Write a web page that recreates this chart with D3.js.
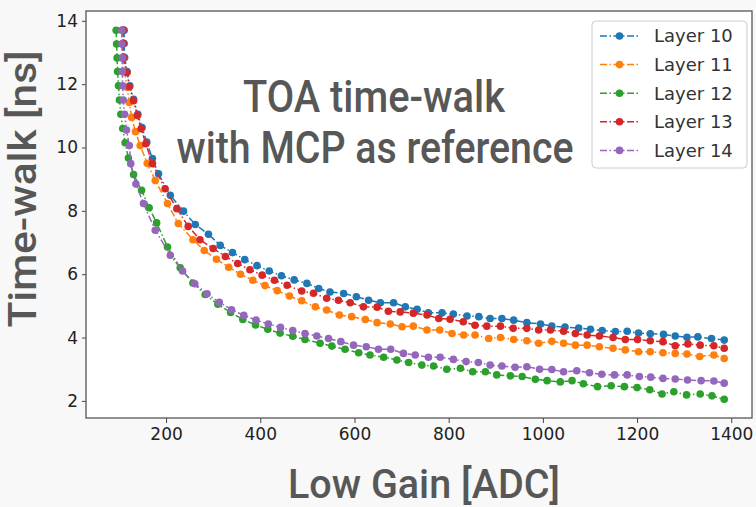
<!DOCTYPE html>
<html>
<head>
<meta charset="utf-8">
<script src="https://cdn.jsdelivr.net/npm/d3@7"></script>
<style>
  body { margin: 0; background: #f8f8f8; }
  svg { display: block; }
</style>
</head>
<body>
<div id="chart"></div>
<script>
// --- data: [Low Gain ADC, time-walk ns] ---
const layerNames = ["Layer 10", "Layer 11", "Layer 12", "Layer 13", "Layer 14"];
const layerColors = ["#1f77b4", "#ff7f0e", "#2ca02c", "#d62728", "#9467bd"];

const layer10 = [[111,13.7],[111,13.28],[112,12.84],[117,12.4],[123,11.95],[131,11.52],[140,11.05],[149,10.63],[159,10.17],[171,9.65],[184,9.17],[209,8.49],[237,7.99],[262,7.57],[290,7.26],[315,6.91],[341,6.68],[367,6.46],[393,6.27],[419,6.1],[445,5.95],[472,5.82],[499,5.71],[524,5.55],[548,5.44],[577,5.39],[604,5.29],[630,5.18],[655,5.1],[683,5.1],[708,4.97],[733,4.89],[757,4.78],[786,4.78],[810,4.74],[839,4.68],[864,4.66],[888,4.6],[913,4.6],[938,4.55],[966,4.47],[995,4.43],[1019,4.36],[1047,4.33],[1076,4.3],[1101,4.26],[1126,4.22],[1154,4.19],[1179,4.2],[1203,4.14],[1228,4.12],[1256,4.1],[1281,4.05],[1306,4.01],[1329,4.02],[1358,3.97],[1385,3.92]];

const layer11 = [[106,13.7],[107,13.27],[108,12.83],[112,12.38],[117,11.9],[122,11.42],[127,10.95],[135,10.5],[145,10.06],[160,9.5],[177,8.96],[203,8.23],[226,7.6],[257,7.09],[281,6.75],[307,6.47],[333,6.22],[358,6.0],[384,5.81],[410,5.64],[436,5.48],[462,5.31],[488,5.16],[517,4.97],[541,4.87],[568,4.71],[594,4.66],[623,4.57],[648,4.47],[676,4.43],[701,4.34],[725,4.36],[754,4.24],[781,4.24],[807,4.13],[832,4.08],[856,4.08],[885,3.97],[910,4.0],[938,3.94],[966,3.9],[991,3.82],[1019,3.88],[1044,3.82],[1069,3.76],[1094,3.76],[1120,3.71],[1149,3.66],[1175,3.61],[1203,3.55],[1228,3.55],[1255,3.52],[1281,3.5],[1306,3.48],[1333,3.4],[1363,3.45],[1385,3.34]];

const layer12 = [[94,13.7],[95,13.27],[96,12.83],[97,12.4],[99,11.95],[101,11.5],[104,11.05],[108,10.6],[113,10.15],[120,9.67],[131,9.15],[148,8.65],[164,8.1],[180,7.62],[203,6.86],[230,6.2],[257,5.72],[283,5.36],[310,5.05],[337,4.79],[363,4.57],[390,4.4],[416,4.26],[442,4.14],[469,4.04],[495,3.94],[527,3.82],[552,3.73],[580,3.63],[609,3.52],[633,3.45],[662,3.38],[690,3.29],[715,3.21],[743,3.13],[768,3.1],[796,3.0],[825,3.03],[851,2.92],[878,2.92],[902,2.82],[931,2.79],[956,2.77],[984,2.68],[1009,2.64],[1037,2.6],[1062,2.64],[1086,2.54],[1116,2.45],[1145,2.48],[1173,2.45],[1200,2.42],[1227,2.35],[1253,2.22],[1278,2.29],[1305,2.19],[1334,2.22],[1359,2.16],[1385,2.05]];

const layer13 = [[109,13.71],[109,13.29],[109,12.83],[117,12.37],[122,11.92],[131,11.48],[139,11.01],[147,10.59],[157,10.12],[171,9.49],[198,8.7],[223,8.07],[247,7.51],[272,7.09],[300,6.81],[326,6.56],[352,6.34],[378,6.14],[404,5.97],[430,5.81],[457,5.65],[488,5.47],[513,5.4],[541,5.24],[566,5.18],[591,5.1],[619,4.97],[648,4.96],[672,4.83],[697,4.81],[725,4.77],[754,4.71],[779,4.6],[803,4.58],[831,4.5],[856,4.39],[881,4.36],[910,4.36],[937,4.29],[966,4.29],[991,4.24],[1016,4.24],[1044,4.2],[1069,4.13],[1094,4.08],[1120,4.05],[1149,4.0],[1175,3.94],[1201,3.94],[1228,3.9],[1255,3.87],[1281,3.74],[1308,3.8],[1334,3.76],[1363,3.74],[1385,3.66]];

const layer14 = [[106,13.7],[106,13.27],[107,12.83],[107,12.4],[108,11.95],[109,11.5],[112,11.05],[116,10.55],[122,10.06],[125,9.49],[136,8.85],[152,8.23],[177,7.39],[209,6.6],[235,6.1],[261,5.7],[287,5.38],[313,5.11],[339,4.88],[365,4.7],[391,4.55],[417,4.43],[443,4.32],[469,4.22],[495,4.13],[520,4.05],[545,3.97],[571,3.87],[598,3.76],[625,3.71],[651,3.63],[677,3.63],[704,3.5],[729,3.45],[757,3.38],[782,3.38],[810,3.31],[837,3.24],[863,3.21],[888,3.13],[913,3.1],[941,3.06],[966,3.08],[993,3.0],[1019,2.99],[1044,2.92],[1072,2.95],[1099,2.89],[1125,2.84],[1152,2.82],[1179,2.82],[1205,2.77],[1229,2.75],[1255,2.71],[1281,2.69],[1307,2.66],[1336,2.64],[1363,2.63],[1385,2.56]];

const xTicks = [200, 400, 600, 800, 1000, 1200, 1400];
const yTicks = [2, 4, 6, 8, 10, 12, 14];

const titleLines = ["TOA time-walk", "with MCP as reference"];
const xLabel = "Low Gain [ADC]";
const yLabel = "Time-walk [ns]";

// --- layout ---
const W = 756, H = 507;
const plot = { left: 86, right: 752, top: 11, bottom: 418 };
const dashDot = "7,2.5,1.5,2.5";

const svg = d3.select("#chart")
  .append("svg")
  .attr("width", W)
  .attr("height", H);

svg.append("rect")
  .attr("width", W).attr("height", H)
  .attr("fill", "#f8f8f8");

svg.append("rect")
  .attr("x", plot.left).attr("y", plot.top)
  .attr("width", plot.right - plot.left)
  .attr("height", plot.bottom - plot.top)
  .attr("fill", "#ffffff");

const x = d3.scaleLinear()
  .domain([30, 1444])
  .range([plot.left, plot.right]);

const y = d3.scaleLinear()
  .domain([1.46, 14.31])
  .range([plot.bottom, plot.top]);

// axes
const xAxis = svg.append("g")
  .attr("transform", `translate(0,${plot.bottom})`)
  .call(d3.axisBottom(x).tickValues(xTicks).tickFormat(d3.format("d")).tickSize(5).tickPadding(5));

const yAxis = svg.append("g")
  .attr("transform", `translate(${plot.left},0)`)
  .call(d3.axisLeft(y).tickValues(yTicks).tickFormat(d3.format("d")).tickSize(4).tickPadding(4));

[xAxis, yAxis].forEach(a => {
  a.select(".domain").remove();
  a.selectAll(".tick line").attr("stroke", "#444").attr("stroke-width", 1);
  a.selectAll(".tick text")
    .attr("fill", "#222")
    .style("font-family", "DejaVu Sans")
    .style("font-size", "17px");
});

// series
const series = [layer10, layer11, layer12, layer13, layer14];
const line = d3.line()
  .x(d => x(d[0]))
  .y(d => y(d[1]));

series.forEach((data, i) => {
  const g = svg.append("g");
  g.append("path")
    .datum(data)
    .attr("fill", "none")
    .attr("stroke", layerColors[i])
    .attr("stroke-width", 1.5)
    .attr("stroke-dasharray", dashDot)
    .attr("d", line);
  g.selectAll("circle")
    .data(data)
    .enter()
    .append("circle")
    .attr("cx", d => x(d[0]))
    .attr("cy", d => y(d[1]))
    .attr("r", 3.8)
    .attr("fill", layerColors[i]);
});

// frame
svg.append("rect")
  .attr("x", plot.left).attr("y", plot.top)
  .attr("width", plot.right - plot.left)
  .attr("height", plot.bottom - plot.top)
  .attr("fill", "none")
  .attr("stroke", "#555")
  .attr("stroke-width", 1.3);

// title inside the plot
const bigFont = "Roboto, 'DejaVu Sans', sans-serif";
svg.append("text")
  .attr("x", 374).attr("y", 112)
  .attr("text-anchor", "middle")
  .attr("textLength", 262)
  .attr("lengthAdjust", "spacingAndGlyphs")
  .style("font-family", bigFont)
  .style("font-weight", 500)
  .style("font-size", "44px")
  .attr("fill", "#575757")
  .text(titleLines[0]);

svg.append("text")
  .attr("x", 375).attr("y", 163)
  .attr("text-anchor", "middle")
  .attr("textLength", 397)
  .attr("lengthAdjust", "spacingAndGlyphs")
  .style("font-family", bigFont)
  .style("font-weight", 500)
  .style("font-size", "44px")
  .attr("fill", "#575757")
  .text(titleLines[1]);

// axis labels
svg.append("text")
  .attr("x", 424).attr("y", 498)
  .attr("text-anchor", "middle")
  .attr("textLength", 272)
  .attr("lengthAdjust", "spacingAndGlyphs")
  .style("font-family", bigFont)
  .style("font-weight", 500)
  .style("font-size", "41px")
  .attr("fill", "#575757")
  .text(xLabel);

svg.append("text")
  .attr("transform", "translate(36,189) rotate(-90)")
  .attr("text-anchor", "middle")
  .attr("textLength", 277)
  .attr("lengthAdjust", "spacingAndGlyphs")
  .style("font-family", bigFont)
  .style("font-weight", 500)
  .style("font-size", "38px")
  .attr("fill", "#575757")
  .text(yLabel);

// legend
const legend = svg.append("g").attr("transform", "translate(592,21)");
legend.append("rect")
  .attr("width", 155).attr("height", 147)
  .attr("rx", 4)
  .attr("fill", "#ffffff")
  .attr("fill-opacity", 0.8)
  .attr("stroke", "#cccccc");

layerNames.forEach((name, i) => {
  const row = legend.append("g").attr("transform", `translate(0,${15 + i * 28.6})`);
  row.append("line")
    .attr("x1", 8).attr("x2", 47)
    .attr("stroke", layerColors[i])
    .attr("stroke-width", 1.5)
    .attr("stroke-dasharray", dashDot);
  row.append("circle")
    .attr("cx", 27.5).attr("r", 3.8)
    .attr("fill", layerColors[i]);
  row.append("text")
    .attr("x", 62).attr("dy", "0.35em")
    .attr("fill", "#333")
    .style("font-family", "DejaVu Sans")
    .style("font-size", "18px")
    .text(name);
});
</script>
</body>
</html>
